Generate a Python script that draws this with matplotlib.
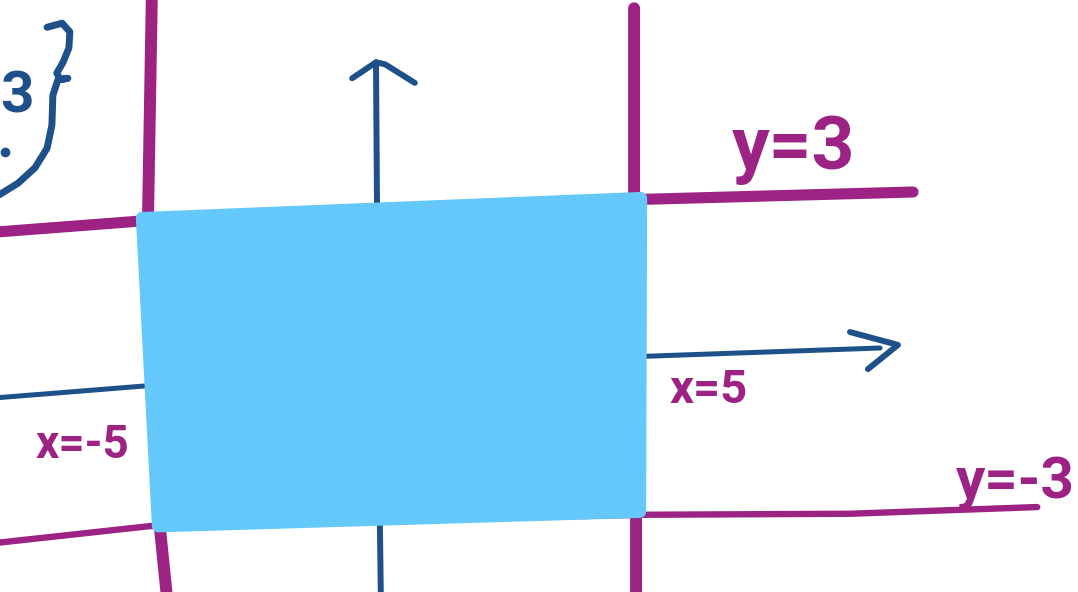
import matplotlib
matplotlib.use("Agg")
import matplotlib.pyplot as plt

# Hand-drawn sketch of the region -5 < x < 5, -3 < y < 3
# sketch units: 1 unit ~ 48.5 px horizontally, ~51.5 px vertically
PURPLE = '#9C2383'
BLUE = '#1E5189'
FILL = '#64C8FA'

# boundary lines (hand-drawn strokes, so a bit wobbly)
left_x = [-4.95, -5.03, -4.95, -4.78, -4.64]
left_y = [7.18, 2.82, -0.68, -3.20, -4.50]

right_x = [4.99, 4.99, 5.03, 5.03]
right_y = [6.93, 3.20, -0.68, -4.50]

top_x = [-8.19, -5.13, 0.16, 5.26, 10.74]
top_y = [2.58, 2.80, 3.01, 3.22, 3.36]

bottom_x = [-8.19, -4.99, 0.16, 5.11, 9.44, 13.30]
bottom_y = [-3.46, -3.13, -3.01, -2.91, -2.89, -2.76]

# axes with arrows
yaxis_x = [-0.23, -0.27, -0.31, -0.33]
yaxis_y = [-4.50, -1.65, 3.20, 5.88]
yarrow_x = [-0.82, -0.33, -0.14, 0.47]
yarrow_y = [5.57, 5.88, 5.84, 5.48]

xaxis_x = [-8.19, -6.85, -5.13, 5.26, 10.06]
xaxis_y = [-0.64, -0.54, -0.41, 0.17, 0.33]
xarrow_x = [9.44, 10.43, 9.81]
xarrow_y = [0.64, 0.39, -0.08]

# shaded region
region_x = [-5.15, 5.13, 5.11, -4.82]
region_y = [2.85, 3.24, -2.85, -3.13]

# brace of the set notation in the corner
brace_x = [-7.11, -6.80, -6.64, -6.66, -6.78, -6.91, -6.84, -6.68, -6.89, -6.99, -7.01, -7.11, -7.36, -7.71, -8.14]
brace_y = [6.56, 6.64, 6.47, 6.16, 5.88, 5.67, 5.55, 5.57, 5.53, 5.24, 4.66, 4.21, 3.83, 3.53, 3.28]

labels = ['y=3', 'x=5', 'x=-5', 'y=-3']
label_x = [8.27, 6.52, -6.39, 12.85]
label_y = [4.17, -0.49, -1.55, -2.30]
label_size = [54, 34, 33, 42]

fig = plt.figure(figsize=(10.78, 5.92), dpi=100)
ax = fig.add_axes([0, 0, 1, 1])
ax.set_xlim(-8.08, 14.14)
ax.set_ylim(-4.41, 7.09)
ax.axis('off')

kw = dict(solid_capstyle='round', solid_joinstyle='round')
ax.plot(left_x, left_y, color=PURPLE, lw=8.6, **kw)
ax.plot(right_x, right_y, color=PURPLE, lw=8.6, **kw)
ax.plot(top_x, top_y, color=PURPLE, lw=8.0, **kw)
ax.plot(bottom_x, bottom_y, color=PURPLE, lw=4.6, **kw)

ax.plot(yaxis_x, yaxis_y, color=BLUE, lw=4.3, **kw)
ax.plot(yarrow_x, yarrow_y, color=BLUE, lw=4.3, **kw)
ax.plot(xaxis_x, xaxis_y, color=BLUE, lw=3.6, **kw)
ax.plot(xarrow_x, xarrow_y, color=BLUE, lw=4.3, **kw)

ax.fill(region_x, region_y, color=FILL, zorder=3)
ax.plot(region_x + region_x[:1], region_y + region_y[:1], color=FILL, lw=9, zorder=3, **kw)

ax.plot(brace_x, brace_y, color=BLUE, lw=5, **kw)
ax.text(-8.07, 5.20, '3', color=BLUE, fontsize=42, fontweight='bold',
        family=['Roboto', 'DejaVu Sans'], ha='left', va='center')
ax.plot([-7.98], [4.14], 'o', color=BLUE, ms=6)

fam = ['Roboto', 'DejaVu Sans']
for t, x, y, s in zip(labels, label_x, label_y, label_size):
    ax.text(x, y, t, color=PURPLE, fontsize=s, fontweight='bold', family=fam,
            ha='center', va='center', zorder=4)

fig.savefig('out.png', dpi=100)
